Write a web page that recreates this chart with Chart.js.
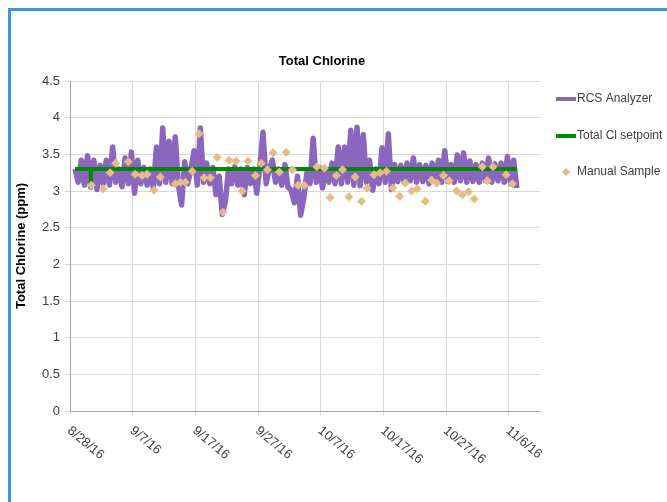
<!DOCTYPE html>
<html lang="en">
<head>
    <meta charset="UTF-8">
    <title>Total Chlorine</title>
    <script src="https://cdn.jsdelivr.net/npm/chart.js"></script>
    <style>
        html, body { margin: 0; padding: 0; background: #fff; overflow: hidden; }
        #frame {
            position: absolute; left: 8px; top: 8px; width: 700px; height: 600px;
            border-left: 3px solid #3b96e6; border-top: 3px solid #3b96e6;
        }
        #wrap { position: absolute; left: 0; top: 0; width: 667px; height: 502px; }
    </style>
</head>
<body>
    <div id="frame"></div>
    <div id="wrap">
        <canvas id="chlorineChart" width="667" height="502"></canvas>
    </div>

    <script>
        // Days are counted from 8/28/16
        const baseDate = [2016, 7, 28];
        const xTickStep = 10;
        const xMax = 75;
        const yTicks = [0, 0.5, 1, 1.5, 2, 2.5, 3, 3.5, 4, 4.5];

        // RCS Analyzer: one reading every half day from day 0.8
        const rcsStartDay = 0.8;
        const rcsStepDays = 0.5;
        const rcsValues = [
            3.30, 3.12, 3.42, 3.08, 3.48, 3.05, 3.42, 3.02, 3.35, 3.10,
            3.42, 3.08, 3.60, 3.12, 3.30, 3.06, 3.45, 3.10, 3.53, 2.97,
            3.42, 3.10, 3.32, 3.08, 3.30, 3.04, 3.60, 3.10, 3.86, 3.12,
            3.68, 3.10, 3.74, 3.08, 2.81, 3.40, 3.10, 3.30, 3.55, 3.08,
            3.86, 3.12, 3.38, 3.10, 3.32, 2.95, 3.20, 2.68, 2.86, 3.30,
            3.10, 3.33, 3.08, 3.30, 2.95, 3.32, 3.10, 3.30, 2.97, 3.33,
            3.80, 3.10, 3.30, 3.42, 3.12, 3.30, 3.08, 3.36, 3.05, 3.01,
            2.84, 3.20, 2.67, 2.90, 3.25, 3.10, 3.72, 3.12, 3.32, 3.04,
            3.30, 3.12, 3.38, 3.10, 3.60, 3.10, 3.60, 3.12, 3.83, 3.08,
            3.87, 3.07, 3.77, 3.12, 3.42, 3.01, 3.30, 3.10, 3.59, 3.12,
            3.78, 3.02, 3.36, 3.13, 3.35, 3.12, 3.38, 3.14, 3.45, 3.12,
            3.36, 3.13, 3.35, 3.10, 3.38, 3.14, 3.42, 3.12, 3.55, 3.13,
            3.36, 3.12, 3.49, 3.14, 3.52, 3.12, 3.41, 3.13, 3.36, 3.12,
            3.38, 3.14, 3.45, 3.12, 3.37, 3.14, 3.38, 3.12, 3.47, 3.10,
            3.42, 3.04
        ];

        // Total Cl setpoint
        const setpointDays = [0.8, 3.3, 3.32, 3.34, 71.3];
        const setpointValues = [3.3, 3.3, 3.13, 3.3, 3.3];

        // Manual samples
        const sampleDays = [
            3.4, 5.3, 6.4, 7.3, 9.3, 10.4, 11.5, 12.3, 13.4, 14.4,
            16.8, 17.6, 18.4, 19.5, 20.6, 21.4, 22.4, 23.5, 24.4, 25.4,
            26.5, 27.5, 28.4, 29.6, 30.5, 31.5, 32.4, 33.4, 34.5, 35.5,
            36.4, 37.4, 39.4, 40.6, 41.5, 42.5, 43.5, 44.5, 45.5, 46.5,
            47.4, 48.5, 49.5, 50.5, 51.5, 52.6, 53.5, 54.5, 55.4, 56.7,
            57.7, 58.5, 59.6, 60.5, 61.7, 62.6, 63.6, 64.5, 65.8, 66.6,
            67.5, 69.6, 70.6
        ];
        const sampleValues = [
            3.08, 3.03, 3.25, 3.38, 3.40, 3.23, 3.21, 3.23, 3.01, 3.19,
            3.10, 3.12, 3.12, 3.27, 3.78, 3.18, 3.18, 3.46, 2.71, 3.42,
            3.41, 3.00, 3.41, 3.21, 3.38, 3.29, 3.52, 3.26, 3.53, 3.29,
            3.08, 3.08, 3.33, 3.31, 2.91, 3.21, 3.29, 2.92, 3.19, 2.86,
            3.04, 3.22, 3.25, 3.27, 3.04, 2.93, 3.11, 3.00, 3.03, 2.86,
            3.15, 3.11, 3.21, 3.14, 3.00, 2.95, 2.99, 2.89, 3.33, 3.14,
            3.33, 3.22, 3.10
        ];

        const colors = {
            rcs: '#8a66bf',
            setpoint: '#008a00',
            sample: '#e6bc86'
        };

        function dateLabel(day) {
            const d = new Date(baseDate[0], baseDate[1], baseDate[2] + day);
            return (d.getMonth() + 1) + '/' + d.getDate() + '/16';
        }

        const rcsPoints = rcsValues.map((v, i) => ({ x: rcsStartDay + i * rcsStepDays, y: v }));
        const setpointPoints = setpointDays.map((d, i) => ({ x: d, y: setpointValues[i] }));
        const samplePoints = sampleDays.map((d, i) => ({ x: d, y: sampleValues[i] }));

        // Title, slanted date labels and the legend, Excel style
        const decor = {
            id: 'decor',
            afterDraw(chart) {
                const ctx = chart.ctx;
                const xs = chart.scales.x;
                ctx.save();

                ctx.fillStyle = '#000';
                ctx.font = 'bold 13px "Liberation Sans", Arial, sans-serif';
                ctx.textAlign = 'center';
                ctx.textBaseline = 'middle';
                ctx.fillText('Total Chlorine', 322, 61);

                ctx.font = '13px "Liberation Sans", Arial, sans-serif';
                ctx.fillStyle = '#404040';
                ctx.textAlign = 'left';
                xs.ticks.forEach(t => {
                    const px = xs.getPixelForValue(t.value);
                    ctx.save();
                    ctx.translate(px - 1, xs.top + 18);
                    ctx.rotate(40 * Math.PI / 180);
                    ctx.fillText(dateLabel(t.value), 0, 0);
                    ctx.restore();
                });

                const rows = [99, 136, 172];
                ctx.font = '12px "Liberation Sans", Arial, sans-serif';
                chart.data.datasets.forEach((ds, i) => {
                    const y = rows[i];
                    if (ds.showLine === false) {
                        ctx.fillStyle = ds.backgroundColor;
                        ctx.beginPath();
                        ctx.moveTo(566, y - 4);
                        ctx.lineTo(570, y);
                        ctx.lineTo(566, y + 4);
                        ctx.lineTo(562, y);
                        ctx.closePath();
                        ctx.fill();
                    } else {
                        ctx.strokeStyle = ds.borderColor;
                        ctx.lineWidth = 4;
                        ctx.beginPath();
                        ctx.moveTo(556, y);
                        ctx.lineTo(576, y);
                        ctx.stroke();
                    }
                    ctx.fillStyle = '#404040';
                    ctx.fillText(ds.label, 577, y);
                });

                ctx.restore();
            }
        };

        const ctx = document.getElementById('chlorineChart').getContext('2d');
        new Chart(ctx, {
            type: 'line',
            data: {
                datasets: [
                    {
                        label: 'RCS Analyzer',
                        data: rcsPoints,
                        borderColor: colors.rcs,
                        backgroundColor: colors.rcs,
                        borderWidth: 5.5,
                        borderJoinStyle: 'round',
                        pointRadius: 0,
                        tension: 0,
                        order: 3
                    },
                    {
                        label: 'Total Cl setpoint',
                        data: setpointPoints,
                        borderColor: colors.setpoint,
                        backgroundColor: colors.setpoint,
                        borderWidth: 4,
                        borderJoinStyle: 'round',
                        pointRadius: 0,
                        order: 2
                    },
                    {
                        label: 'Manual Sample',
                        data: samplePoints,
                        showLine: false,
                        backgroundColor: colors.sample,
                        borderColor: colors.sample,
                        borderWidth: 0,
                        pointStyle: 'rectRot',
                        pointRadius: 4.5,
                        order: 1
                    }
                ]
            },
            options: {
                responsive: false,
                animation: false,
                devicePixelRatio: 1,
                layout: { padding: { top: 81, right: 127, bottom: 0, left: 0 } },
                plugins: {
                    legend: { display: false },
                    title: { display: false },
                    tooltip: { enabled: false }
                },
                scales: {
                    x: {
                        type: 'linear',
                        min: 0,
                        max: xMax,
                        ticks: { stepSize: xTickStep, includeBounds: false, display: false },
                        grid: { color: '#d9d9d9', tickLength: 4 },
                        border: { color: '#a6a6a6' },
                        afterFit(scale) { scale.height = 91; }
                    },
                    y: {
                        min: yTicks[0],
                        max: yTicks[yTicks.length - 1],
                        ticks: {
                            stepSize: 0.5,
                            color: '#404040',
                            padding: 5,
                            font: { family: '"Liberation Sans", Arial, sans-serif', size: 13 },
                            callback: v => String(v)
                        },
                        grid: { color: '#d9d9d9', tickLength: 5 },
                        border: { color: '#a6a6a6' },
                        title: {
                            display: true,
                            text: 'Total Chlorine (ppm)',
                            color: '#000',
                            padding: { top: 14, bottom: 0 },
                            font: { family: '"Liberation Sans", Arial, sans-serif', size: 13, weight: 'bold' }
                        },
                        afterFit(scale) { scale.width = 70; }
                    }
                }
            },
            plugins: [decor]
        });
    </script>
</body>
</html>
